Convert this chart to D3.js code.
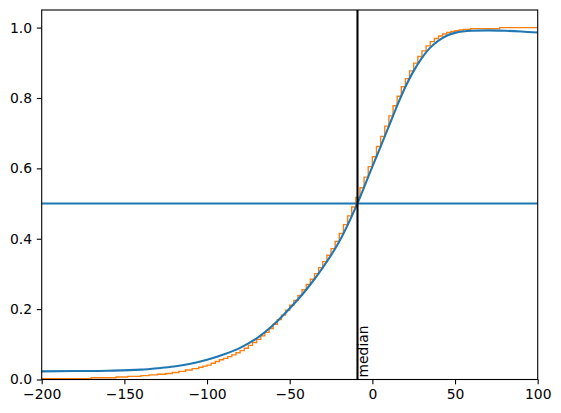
<!DOCTYPE html>
<html>
<head>
<meta charset="utf-8">
<script src="https://cdn.jsdelivr.net/npm/d3@7"></script>
<style>
  body { margin: 0; background: #fff; }
  svg text { font-family: "DejaVu Sans", sans-serif; font-size: 13.9px; fill: #000; }
</style>
</head>
<body>
<svg width="561" height="413"></svg>
<script>
// fitted cdf (blue)
const blueX = [-200, -180, -160, -140, -130, -120, -110, -100, -90, -80, -70, -60, -50, -40, -30, -20, -10,
  0, 5, 10, 15, 20, 25, 30, 35, 40, 45, 50, 60, 70, 80, 90, 100];
const blueY = [0.023, 0.024, 0.025, 0.028, 0.032, 0.037, 0.045, 0.056, 0.071, 0.090, 0.117, 0.155, 0.202, 0.255, 0.318, 0.392, 0.49,
  0.605, 0.662, 0.72, 0.778, 0.832, 0.877, 0.914, 0.943, 0.963, 0.977, 0.985, 0.991, 0.992, 0.991, 0.989, 0.986];

// cumulative step histogram (orange): left edge of each step and its value
const stepX = [-200, -170, -155, -148, -140, -135, -130, -125, -121, -117, -113, -109, -105, -102.5,
  -100, -97.5, -95, -92.5, -90, -87.5, -85, -82.5, -80, -77.5, -75, -72.5, -70, -67.5, -65, -62.5,
  -60, -57.5, -55, -52.5, -50, -47.5, -45, -42.5, -40, -37.5, -35, -32.5, -30, -27.5, -25, -22.5,
  -20, -17.5, -15, -12.5, -10, -7.5, -5, -2.5, 0, 2.5, 5, 7.5, 10, 12.5, 15, 17.5,
  20, 22.5, 25, 27.5, 30, 32.5, 35, 37.5, 40, 42.5, 45, 47.5, 50, 52.5, 55, 59.5, 77];
const stepY = [0.002, 0.005, 0.007, 0.009, 0.011, 0.013, 0.015, 0.017, 0.020, 0.023, 0.027, 0.031, 0.035, 0.038,
  0.041, 0.046, 0.051, 0.056, 0.060, 0.065, 0.070, 0.076, 0.082, 0.089, 0.097, 0.105, 0.114, 0.124, 0.134, 0.145,
  0.157, 0.170, 0.183, 0.197, 0.211, 0.225, 0.239, 0.255, 0.270, 0.285, 0.301, 0.318, 0.335, 0.353, 0.372, 0.392,
  0.415, 0.440, 0.465, 0.490, 0.517, 0.545, 0.575, 0.605, 0.633, 0.662, 0.691, 0.720, 0.749, 0.778, 0.805, 0.832,
  0.855, 0.877, 0.899, 0.918, 0.934, 0.948, 0.960, 0.969, 0.976, 0.982, 0.986, 0.989, 0.991, 0.993, 0.995, 0.997, 1.0];

const median = -9;
const xTicks = [-200, -150, -100, -50, 0, 50, 100];
const yTicks = [0, 0.2, 0.4, 0.6, 0.8, 1.0];

const svg = d3.select("svg");
const mLeft = 41.7, mRight = 537.7, mTop = 10, mBottom = 379.5;

const x = d3.scaleLinear().domain([-200, 100]).range([mLeft, mRight]);
const y = d3.scaleLinear().domain([0, 1.05]).range([mBottom, mTop]);

svg.append("clipPath").attr("id", "clip")
  .append("rect").attr("x", mLeft).attr("y", mTop)
  .attr("width", mRight - mLeft).attr("height", mBottom - mTop);

const plot = svg.append("g").attr("clip-path", "url(#clip)");

// orange steps
const steps = stepX.map((d, i) => [d, stepY[i]]);
steps.push([120, stepY[stepY.length - 1]]);
plot.append("path")
  .datum(steps)
  .attr("fill", "none")
  .attr("stroke", "#ff7f0e")
  .attr("stroke-width", 1.39)
  .attr("d", d3.line().x(d => x(d[0])).y(d => y(d[1])).curve(d3.curveStepAfter));

// blue curve
plot.append("path")
  .datum(blueX.map((d, i) => [d, blueY[i]]))
  .attr("fill", "none")
  .attr("stroke", "#1f77b4")
  .attr("stroke-width", 2.08)
  .attr("d", d3.line().x(d => x(d[0])).y(d => y(d[1])).curve(d3.curveMonotoneX));

// horizontal line at 0.5
plot.append("line")
  .attr("x1", mLeft).attr("x2", mRight)
  .attr("y1", y(0.5)).attr("y2", y(0.5))
  .attr("stroke", "#1f77b4").attr("stroke-width", 2.08);

// median line
plot.append("line")
  .attr("x1", x(median)).attr("x2", x(median))
  .attr("y1", mTop).attr("y2", mBottom)
  .attr("stroke", "#000").attr("stroke-width", 2.08);

svg.append("text")
  .attr("transform", `translate(${x(median) + 10.5},${mBottom - 2}) rotate(-90)`)
  .text("median");

// axes
const xAxis = d3.axisBottom(x).tickValues(xTicks).tickSize(4.86).tickPadding(4.5)
  .tickFormat(d => d3.format("d")(d).replace("-", "\u2212"));
const yAxis = d3.axisLeft(y).tickValues(yTicks).tickSize(4.86).tickPadding(4.86)
  .tickFormat(d3.format(".1f"));

const gx = svg.append("g").attr("transform", `translate(0,${mBottom})`).call(xAxis);
const gy = svg.append("g").attr("transform", `translate(${mLeft},0)`).call(yAxis);
[gx, gy].forEach(g => {
  g.select(".domain").remove();
  g.selectAll(".tick line").attr("stroke", "#000").attr("stroke-width", 1.1);
  g.selectAll(".tick text").attr("font-size", null).attr("font-family", null);
});
gx.selectAll(".tick text").attr("dy", "0.76em");

svg.append("rect")
  .attr("x", mLeft).attr("y", mTop)
  .attr("width", mRight - mLeft).attr("height", mBottom - mTop)
  .attr("fill", "none").attr("stroke", "#000").attr("stroke-width", 1.1);
</script>
</body>
</html>
